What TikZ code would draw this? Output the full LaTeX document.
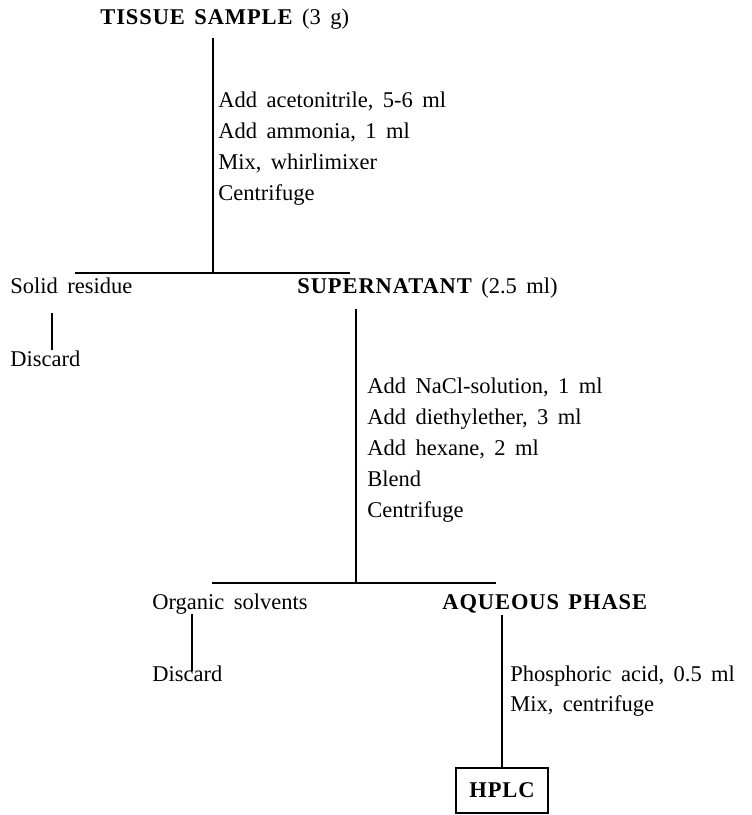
\documentclass[tikz,border=0pt]{standalone}
\usepackage{fontspec}
\setmainfont{Liberation Serif}
\usepackage{tikz}

\newcommand\hd[1]{{\bfseries\addfontfeature{LetterSpace=4}#1}}
\tikzset{
  txt/.style={anchor=base west,inner sep=0pt,
    font={\fontsize{11.25}{13}\selectfont\spaceskip=.42em\relax}},
  ln/.style={draw,line width=1.4pt},
  hl/.style={draw,line width=1pt}
}

\begin{document}
\begin{tikzpicture}[x=0.5pt,y=-0.5pt]
      \fill[white] (0,0) rectangle (751,815);
      \useasboundingbox (0,0) rectangle (751,815);
      \node[txt] (tissue) at (100,24) {\hd{TISSUE SAMPLE} (3 g)};
      \node[txt] (solid) at (10,293) {Solid residue};
      \node[txt] (super) at (297,293) {\hd{SUPERNATANT} (2.5 ml)};
      \node[txt] (disc1) at (10,366) {Discard};
      \node[txt] (organic) at (152,609) {Organic solvents};
      \node[txt] (aqueous) at (442,609) {\hd{AQUEOUS PHASE}};
      \node[txt] (disc2) at (152,681) {Discard};
      \node[txt,anchor=center,draw,line width=1pt,minimum width=46pt,minimum height=22.5pt] (hplc) at (502,790) {\hd{HPLC}};
      \foreach \txt [count=\i] in {{Add acetonitrile, 5-6 ml},{Add ammonia, 1 ml},{Mix, whirlimixer},{Centrifuge}}
      \node[txt] (a\i) at (218,76+31*\i) {\txt};
      \foreach \txt [count=\i] in {{Add NaCl-solution, 1 ml},{Add diethylether, 3 ml},{Add hexane, 2 ml},{Blend},{Centrifuge}}
      \node[txt] (b\i) at (367,362+31*\i) {\txt};
      \foreach \txt [count=\i] in {{Phosphoric acid, 0.5 ml},{Mix, centrifuge}}
      \node[txt] (c\i) at (510,651+30*\i) {\txt};
      \coordinate (j1) at (213,273);
      \coordinate (j2) at (356,583);
      \path[ln,shorten <=4.5pt] (tissue.south -| j1) -- (j1);
      \path[hl] (j1) ++(-138,0) -- ++(275,0);
      \path[ln,shorten <=9.5pt] ([xshift=21pt]solid.south west) -- ([xshift=21pt]disc1.north west);
      \path[ln,shorten <=5.5pt] (super.south -| j2) -- (j2);
      \path[hl] (j2) ++(-144,0) -- ++(284,0);
      \path[ln,shorten >=-3pt] ([xshift=20pt]organic.south west) -- ([xshift=20pt]disc2.north west);
      \path[ln,shorten <=1pt] (aqueous.south -| hplc.north) -- (hplc.north);
    \end{tikzpicture}
\end{document}
